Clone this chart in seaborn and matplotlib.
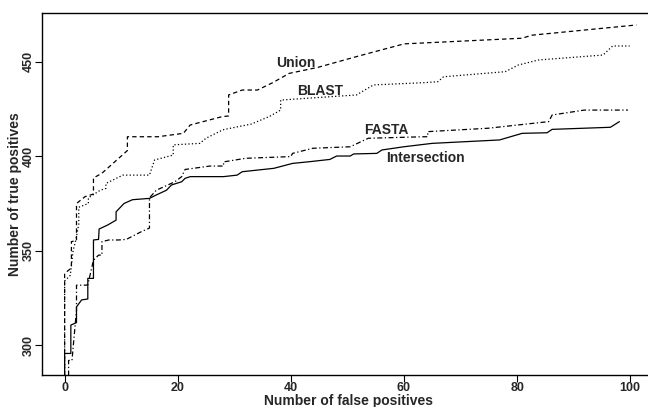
import numpy as np
import pandas as pd
import matplotlib
matplotlib.use('Agg')
import matplotlib.pyplot as plt
import seaborn as sns

# ---------------------------
# DATA
# ---------------------------
union_x = [0, 0, 1.2, 1.2, 2.1, 2.1, 3.6, 5.1, 5.1, 6.6, 11.1, 11.1, 16.5, 21, 22.2,
           27.8, 29, 29, 31.4, 34.1, 36.8, 39.7, 44.8, 52, 60, 80.9, 82.6, 101.1]
union_y = [284, 338, 340.9, 354.8, 355.5, 375, 378.6, 380, 388.5, 391, 403, 410.3, 410.3, 412.1, 416.5,
           420.9, 421.3, 432.4, 435, 435, 438.9, 443.8, 447, 453, 459.4, 462.4, 464, 469.4]

blast_x = [0, 0, 1, 1.5, 2, 2.5, 2.5, 4.2, 4.2, 6.3, 7.3, 7.3, 10.3, 15, 15.9, 19.2, 19.2, 23.9,
           25, 28, 33, 36.2, 38.2, 38.2, 51.6, 54.6, 63.6, 66, 67, 77.9, 80.2, 83.8, 95.2, 96.9, 99.9]
blast_y = [284, 334, 337, 350, 356, 364, 373, 375, 378, 382, 383, 385.6, 390, 390, 398, 400.6, 406, 406.8,
           409.5, 414, 417, 421, 424.4, 429.7, 432.4, 437.7, 438.9, 439.4, 442, 444.7, 448.2, 450.9, 453.5, 458.3, 458.3]

fasta_x = [0.7, 0.7, 1.3, 2.1, 2.1, 3.7, 4.1, 5.1, 6, 6.6, 6.6, 7.8, 9.5, 10.9, 13.5, 15, 15,
           16.2, 19.5, 20.7, 21.3, 25.7, 28.1, 28.1, 32, 40, 40.3, 43.9, 50.5, 53.7, 63.6, 64.2, 64.2,
           74.9, 85.6, 86.2, 91.9, 99.6]
fasta_y = [284, 292, 292, 318.6, 331.8, 331.8, 332, 345, 347.7, 347.7, 354.8, 355.7, 355.7, 356, 360, 362, 378,
           382, 386.5, 389.2, 393, 394.8, 394.8, 397, 398.9, 399.8, 401.5, 404.2, 405, 409.5, 410.3, 410.3, 413,
           414.8, 418.3, 421.8, 424.4, 424.4]

inter_x = [0, 0, 1.1, 1.1, 2.1, 2.1, 3, 4.1, 4.1, 5.1, 5.1, 6, 6.1, 7.6, 9.1, 9.1, 10.5, 12, 15,
           16.2, 18, 18.9, 20.7, 21.3, 22.2, 28.1, 30.5, 31.4, 37, 40.3, 43.3, 46.9, 48.1, 50.5, 51.1,
           55.2, 56.1, 60, 63.6, 65, 76.9, 80.9, 85.3, 86.2, 96.5, 98.1]
inter_y = [284, 295.7, 295.7, 310.7, 312, 320.3, 324, 324.5, 335.4, 335.4, 355.7, 356, 361.5, 363.6, 366.2,
           370.6, 375, 377, 377.7, 379.5, 382, 384.8, 386.5, 388.3, 389.2, 389.2, 390, 391.8, 393.6, 396.2,
           397.1, 398.3, 400.1, 400.1, 401.2, 401.5, 403.3, 405, 406.3, 406.8, 408.6, 412.1, 412.4, 414.2,
           415.3, 418.3]

labels = ['Union', 'BLAST', 'FASTA', 'Intersection']
label_x = [40.9, 45.1, 56.9, 63.8]
label_y = [449.5, 434.5, 413.9, 399]

x_ticks = [0, 20, 40, 60, 80, 100]
y_ticks = [300, 350, 400, 450]

# ---------------------------
# STYLE
# ---------------------------
sns.set_style('ticks')
plt.rcParams['font.family'] = ['Liberation Sans', 'DejaVu Sans']
plt.rcParams['font.weight'] = 'bold'

W, H = 648, 407
fig = plt.figure(figsize=(W / 100, H / 100), dpi=100)
ax_left, ax_bottom, ax_top = 42, 375, 12.5
ax_w = W - ax_left + 6.5
ax = fig.add_axes([ax_left / W, 1 - ax_bottom / H, ax_w / W, (ax_bottom - ax_top) / H])

series = [
    (union_x, union_y, (0, (3.5, 2.5))),
    (blast_x, blast_y, (0, (1, 1.8))),
    (fasta_x, fasta_y, (0, (4, 2, 1, 2))),
    (inter_x, inter_y, '-'),
]
for xs, ys, ls in series:
    sns.lineplot(x=xs, y=ys, ax=ax, color='black', linewidth=0.9,
                 linestyle=ls, sort=False, estimator=None)

for lab, lx, ly in zip(labels, label_x, label_y):
    ax.text(lx, ly, lab, ha='center', va='center', fontsize=10, fontweight='bold')

ax.set_xlim(-4, 104.3)
ax.set_ylim(284.3, 476)
ax.set_xticks(x_ticks)
ax.set_yticks(y_ticks)
ax.tick_params(axis='both', length=5, width=0.8, labelsize=9, color='black', pad=0.3)
for t in ax.get_yticklabels():
    t.set_rotation(90)
    t.set_va('center')

# axis titles placed at the pixel centres measured on the reference
ax.set_xlabel('Number of false positives', fontsize=10, fontweight='bold', va='center')
ax.set_ylabel('Number of true positives', fontsize=10, fontweight='bold', va='center')
ax.xaxis.set_label_coords(0.5 - (ax_left + ax_w / 2 - 348) / ax_w, (ax_bottom - 400.8) / (ax_bottom - ax_top))
ax.yaxis.set_label_coords((15.5 - ax_left) / ax_w, 0.5)

ax.spines['right'].set_visible(False)
for s in ['left', 'top', 'bottom']:
    ax.spines[s].set_linewidth(1.0)
    ax.spines[s].set_color('black')

fig.savefig('out.png', dpi=100)
